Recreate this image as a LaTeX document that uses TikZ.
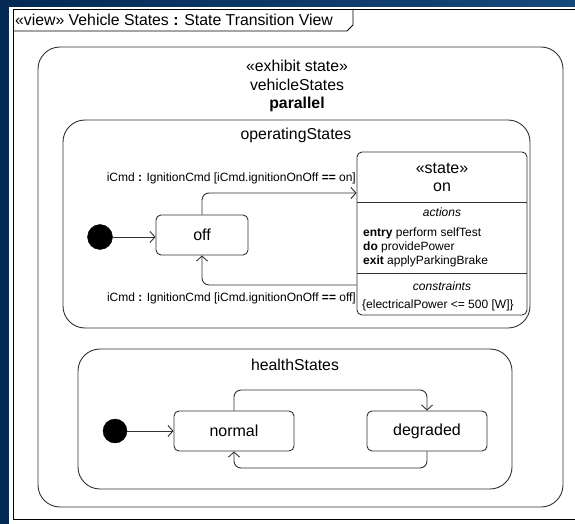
\documentclass[tikz,border=0pt]{standalone}
\usepackage{fontspec}
\setmainfont{Liberation Sans}
\usetikzlibrary{arrows.meta}
\definecolor{bgdark}{RGB}{4,42,84}
\definecolor{bglight}{RGB}{22,72,122}
\definecolor{ln}{RGB}{50,50,50}
\tikzset{
  statebox/.style={draw=ln, line width=0.9pt, rounded corners=5pt, fill=white, align=center, inner sep=0pt},
  region/.style={draw=ln, line width=0.9pt, rounded corners=22pt},
  initdot/.style={circle, fill=black, draw=black, minimum size=25pt, inner sep=0pt},
  tr/.style={draw=ln, line width=0.9pt, rounded corners=7pt, -{Straight Barb[length=5pt,width=11pt]}},
  lbl/.style={font=\fontsize{12}{14}\selectfont, inner sep=0pt},
  ttl/.style={font=\fontsize{15.8}{18}\selectfont, inner sep=0pt},
  sname/.style={font=\fontsize{16}{18}\selectfont, inner sep=0pt}
}
\begin{document}
\begin{tikzpicture}[x=1pt,y=-1pt]
\useasboundingbox (0,0) rectangle (575,524);
\shade[left color=bgdark, right color=bglight] (0,0) rectangle (575,524);
\fill[white] (9,7) rectangle (575,524);
% frame
\draw[black, line width=0.9pt] (576,9) -- (13,9) -- (13,519) -- (576,519);
\coordinate (tabA) at (13,31);
\coordinate (tabB) at (347,31);
\coordinate (tabC) at (353,25);
\coordinate (tabD) at (353,9);
\draw[black, line width=0.9pt] (tabA) -- (tabB) -- (tabC) -- (tabD);
\node[ttl, anchor=west] (title) at (15,20) {«view» Vehicle States \textbf{:} State Transition View};

% outer state
\draw[region] (38,47) rectangle (563,507);
\node[ttl] (st1) at (297,66) {«exhibit state»};
\node[ttl] (st2) at (297,85) {vehicleStates};
\node[ttl, font=\fontsize{15.8}{18}\selectfont\bfseries] (st3) at (297,104) {parallel};

% operating states region
\draw[region] (63,120) rectangle (530,328);
\node[ttl] (opt) at (296,135) {operatingStates};

\node[initdot] (i1) at (100,237) {};
\node[statebox, sname, minimum width=92pt, minimum height=40pt] (off) at (202,235) {off};

% on state
\node[statebox, minimum width=170pt, minimum height=163pt] (on) at (442,233.5) {};
\coordinate (d1) at (0,202);
\coordinate (d2) at (0,273);
\draw[ln, line width=0.9pt] (on.west |- d1) -- (on.east |- d1);
\draw[ln, line width=0.9pt] (on.west |- d2) -- (on.east |- d2);
\node[sname] (onst) at (442,168) {«state»};
\node[sname] (onnm) at (442,187) {on};
\node[lbl, font=\fontsize{12}{14}\selectfont\itshape] (act) at (442,212) {actions};
\node[lbl, anchor=west] (a1) at (363,233) {\textbf{entry} perform selfTest};
\node[lbl, anchor=west] (a2) at (363,247) {\textbf{do} providePower};
\node[lbl, anchor=west] (a3) at (363,261) {\textbf{exit} applyParkingBrake};
\node[lbl, font=\fontsize{12}{14}\selectfont\itshape] (cons) at (442,286) {constraints};
\node[lbl, anchor=west] (c1) at (362,305) {\{electricalPower <= 500 [W]\}};

\coordinate (up1) at (0,193);
\coordinate (dn1) at (0,285);
\draw[tr] (i1) -- (i1 -| off.west);
\draw[tr] (off.north) |- (on.west |- up1);
\draw[tr] (on.west |- dn1) -| (off.south);
\node[lbl, anchor=east] (l1) at (356,178) {iCmd \textbf{:} IgnitionCmd [iCmd.ignitionOnOff \textbf{==} on]};
\node[lbl, anchor=east] (l2) at (356,298) {iCmd \textbf{:} IgnitionCmd [iCmd.ignitionOnOff \textbf{==} off]};

% health states region
\draw[region] (78,349) rectangle (512,489);
\node[ttl] (ht) at (295,365) {healthStates};
\node[initdot, minimum size=24pt] (i2) at (115,431) {};
\node[statebox, sname, minimum width=120pt, minimum height=40pt] (normal) at (234,431) {normal};
\node[statebox, sname, minimum width=120pt, minimum height=40pt] (degraded) at (427,431) {degraded};
\coordinate (htop) at (0,390);
\coordinate (hbot) at (0,468);
\draw[tr] (i2) -- (normal.west);
\draw[tr] (normal.north) |- (htop -| degraded.north) -- (degraded.north);
\draw[tr] (degraded.south) |- (hbot -| normal.south) -- (normal.south);
\end{tikzpicture}
\end{document}
